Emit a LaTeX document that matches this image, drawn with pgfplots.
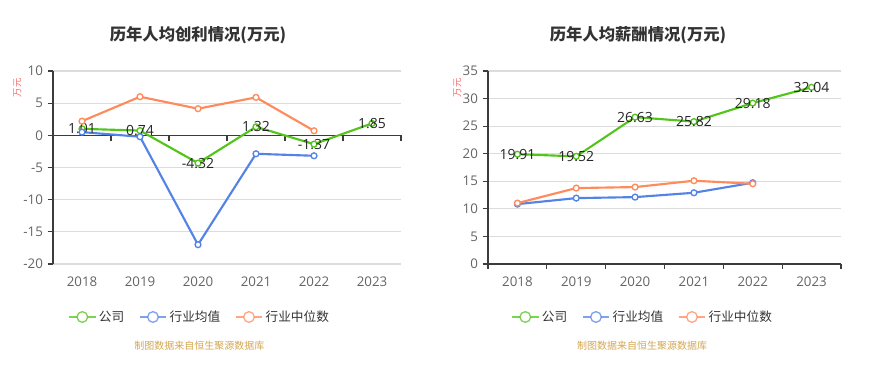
\documentclass[border=0pt]{standalone}
\usepackage{pgfplots}
\pgfplotsset{compat=1.18}
\usepackage{fontspec}
\setmainfont{Open Sans}
\newfontfamily\cjk{Noto Sans CJK SC}
\definecolor{cgreen}{RGB}{82,196,26}
\definecolor{cblue}{RGB}{84,131,232}
\definecolor{corange}{RGB}{255,138,92}
\definecolor{gridc}{RGB}{220,220,220}
\definecolor{axc}{RGB}{60,60,60}
\definecolor{tickc}{RGB}{100,100,100}
\definecolor{srcc}{RGB}{212,166,80}
\definecolor{ylabc}{RGB}{245,108,108}

\pgfplotsset{
  mychart/.style={
    scale only axis, anchor=south west,
    height=144.75pt,
    xmin=-0.5, xmax=5.5,
    xtick={0,1,2,3,4,5},
    xticklabels={2018,2019,2020,2021,2022,2023},
    axis line style={draw=none},
    ymajorgrids, grid style={gridc, line width=0.8pt},
    tick align=outside,
    ytick pos=left,
    x tick style={draw=none},
    y tick style={axc, line width=0.8pt},
    major tick length=4pt,
    tick label style={font=\fontsize{10}{12}\selectfont, text=tickc},
    /pgf/number format/assume math mode=true,
    xticklabel style={yshift=-2pt},
    clip=false,
    every axis plot/.append style={line width=1.6pt, mark=*, mark size=2.2pt,
      mark options={fill=white, line width=1pt}},
    legend columns=3,
    legend cell align=left,
    legend style={draw=none, fill=none, font=\cjk\fontsize{9.5}{11}\selectfont, text=black!80,
      /tikz/every even column/.append style={column sep=9pt}},
    legend image code/.code={
      \draw[##1, mark=none, line width=1pt, opacity=0.75] (0pt,0pt) -- (20pt,0pt);
      \draw[##1, mark=none, line width=1pt, fill=white, draw opacity=0.75] (10pt,0pt) circle (4pt);
    },
  },
  lab/.style={nodes near coords, point meta=explicit symbolic,
    every node near coord/.append style={anchor=center, font=\fontsize{10.5}{12}\selectfont, text=black!85}},
}

\begin{document}
\begin{tikzpicture}
\path[use as bounding box] (0,0) rectangle (657.75pt,280.5pt);

% Titles
\node[font=\cjk\bfseries\fontsize{12.25}{14}\selectfont, text=black!80] at (148.5pt,254.25pt) {历年人均创利情况(万元)};
\node[font=\cjk\bfseries\fontsize{12.25}{14}\selectfont, text=black!80] at (478.5pt,254.25pt) {历年人均薪酬情况(万元)};
% y labels
\node[font=\cjk\fontsize{7}{8}\selectfont, text=ylabc, rotate=90] at (13pt,214.5pt) {万元};
\node[font=\cjk\fontsize{7}{8}\selectfont, text=ylabc, rotate=90] at (343pt,214.5pt) {万元};
% source
\node[font=\cjk\fontsize{7.5}{9}\selectfont, text=srcc] at (149.5pt,21pt) {制图数据来自恒生聚源数据库};
\node[font=\cjk\fontsize{7.5}{9}\selectfont, text=srcc] at (481.5pt,21pt) {制图数据来自恒生聚源数据库};

% Left chart
\begin{axis}[mychart, at={(39.75pt,82.5pt)}, width=261pt,
  ymin=-20, ymax=10, ytick={-20,-15,-10,-5,0,5,10},
  legend style={at={(rel axis cs:0.4224,-0.2746)}, anchor=center}]
\draw[axc, line width=0.8pt] (axis cs:-0.5,-20) -- (axis cs:-0.5,10);
\draw[axc, line width=0.8pt] (axis cs:-0.5,0) -- (axis cs:5.5,0);
\pgfplotsinvokeforeach{-0.5,0.5,1.5,2.5,3.5,4.5,5.5}{
  \draw[axc, line width=0.8pt] (axis cs:#1,0) -- ++(0pt,-4pt);
}
\addplot[color=cgreen, lab] table[meta=l] {
x y l
0 1.01 1.01
1 0.74 0.74
2 -4.32 -4.32
3 1.32 1.32
4 -1.37 -1.37
5 1.85 1.85
};
\addplot[color=cblue] table {
x y
0 0.5
1 -0.22
2 -17.0
3 -2.87
4 -3.18
};
\addplot[color=corange] table {
x y
0 2.2
1 6.0
2 4.14
3 5.9
4 0.71
};
\legend{公司,行业均值,行业中位数}
\end{axis}

% Right chart
\begin{axis}[mychart, at={(366pt,82.5pt)}, width=264.75pt,
  ymin=0, ymax=35, ytick={0,5,10,15,20,25,30,35},
  legend style={at={(rel axis cs:0.439,-0.2746)}, anchor=center}]
\draw[axc, line width=0.8pt] (axis cs:-0.5,0) -- (axis cs:-0.5,35);
\draw[axc, line width=0.8pt] (axis cs:-0.5,0) -- (axis cs:5.5,0);
\pgfplotsinvokeforeach{-0.5,0.5,1.5,2.5,3.5,4.5,5.5}{
  \draw[axc, line width=0.8pt] (axis cs:#1,0) -- ++(0pt,-4pt);
}
\addplot[color=cgreen, lab] table[meta=l] {
x y l
0 19.91 19.91
1 19.52 19.52
2 26.63 26.63
3 25.82 25.82
4 29.18 29.18
5 32.04 32.04
};
\addplot[color=cblue] table {
x y
0 10.86
1 11.95
2 12.13
3 12.92
4 14.74
};
\addplot[color=corange] table {
x y
0 11.04
1 13.77
2 13.95
3 15.1
4 14.55
};
\legend{公司,行业均值,行业中位数}
\end{axis}
\end{tikzpicture}
\end{document}
